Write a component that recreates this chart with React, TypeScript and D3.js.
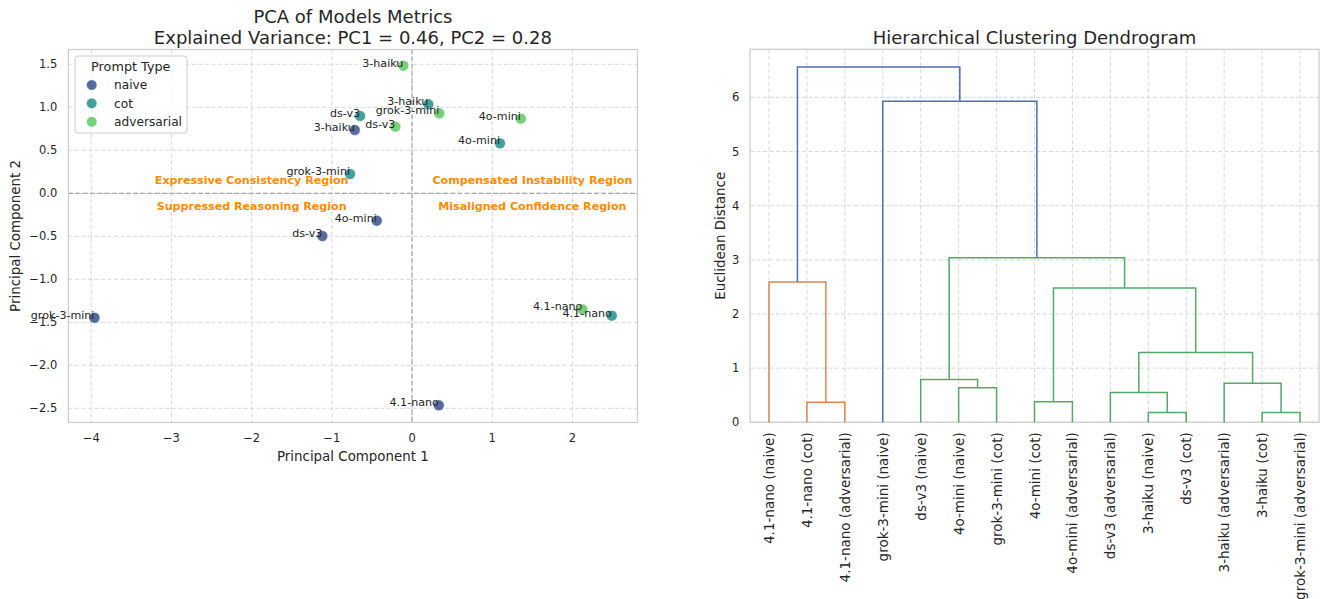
import React from 'react';
import * as d3 from 'd3';

const W = 1320, H = 599;
const FONT = 'DejaVu Sans, Liberation Sans, sans-serif';
const TEXT = '#262626';
const GRID = '#d4d4d4';
const SPINE = '#cccccc';

// PCA scatter data (PC1, PC2) per prompt type
const promptTypes = ['naive', 'cot', 'adversarial'];
const typeColors = ['#3b528b', '#21918c', '#5ec962'];
const naiveModels = ['3-haiku', 'grok-3-mini', '4o-mini', 'ds-v3', '4.1-nano'];
const naivePC1 = [-0.714, -3.96, -0.44, -1.118, 0.334];
const naivePC2 = [0.736, -1.447, -0.319, -0.497, -2.465];
const cotModels = ['ds-v3', '3-haiku', '4o-mini', 'grok-3-mini', '4.1-nano'];
const cotPC1 = [-0.648, 0.203, 1.097, -0.773, 2.491];
const cotPC2 = [0.899, 1.035, 0.581, 0.224, -1.423];
const advModels = ['3-haiku', 'grok-3-mini', 'ds-v3', '4o-mini', '4.1-nano'];
const advPC1 = [-0.108, 0.34, -0.208, 1.357, 2.123];
const advPC2 = [1.484, 0.93, 0.774, 0.867, -1.349];

const pcaXTicks = [-4, -3, -2, -1, 0, 1, 2];
const pcaYTicks = [-2.5, -2.0, -1.5, -1.0, -0.5, 0.0, 0.5, 1.0, 1.5];

const regionNames = ['Expressive Consistency Region', 'Compensated Instability Region', 'Suppressed Reasoning Region', 'Misaligned Confidence Region'];
const regionX = [-2, 1.5, -2, 1.5];
const regionY = [0.15, 0.15, -0.15, -0.15];

// dendrogram: leaves in display order, merges [left, right, height, color]
const leafLabels = [
  '4.1-nano (naive)', '4.1-nano (cot)', '4.1-nano (adversarial)', 'grok-3-mini (naive)',
  'ds-v3 (naive)', '4o-mini (naive)', 'grok-3-mini (cot)', '4o-mini (cot)',
  '4o-mini (adversarial)', 'ds-v3 (adversarial)', '3-haiku (naive)', 'ds-v3 (cot)',
  '3-haiku (adversarial)', '3-haiku (cot)', 'grok-3-mini (adversarial)',
];
const mergeLeft = [1, 0, 5, 4, 7, 10, 9, 13, 12, 21, 19, 18, 3, 16];
const mergeRight = [2, 15, 6, 17, 8, 11, 20, 14, 22, 23, 24, 25, 26, 27];
const mergeHeight = [0.37, 2.59, 0.64, 0.79, 0.38, 0.18, 0.55, 0.18, 0.72, 1.29, 2.48, 3.04, 5.93, 6.56];
const mergeColor = ['#dd8452', '#dd8452', '#55a868', '#55a868', '#55a868', '#55a868', '#55a868', '#55a868', '#55a868', '#55a868', '#55a868', '#55a868', '#4c72b0', '#4c72b0'];
const dendroYTicks = [0, 1, 2, 3, 4, 5, 6];

const fmtY = (v: number) => v.toFixed(1).replace('-', '\u2212');
const fmtX = (v: number) => String(v).replace('-', '\u2212');

function PcaPanel() {
  const x = d3.scaleLinear().domain([-4.285, 2.81]).range([68.4, 637.4]);
  const y = d3.scaleLinear().domain([-2.665, 1.672]).range([422.5, 49.5]);
  const [x0, x1] = x.range();
  const [y0, y1] = y.range();
  const series = [
    { models: naiveModels, pc1: naivePC1, pc2: naivePC2 },
    { models: cotModels, pc1: cotPC1, pc2: cotPC2 },
    { models: advModels, pc1: advPC1, pc2: advPC2 },
  ];
  const cx = (x0 + x1) / 2;
  return (
    <g fontFamily={FONT}>
      {pcaXTicks.map(t => (
        <line key={'gx' + t} x1={x(t)} x2={x(t)} y1={y1} y2={y0} stroke={GRID} strokeWidth={0.9} strokeDasharray="4,2.5" />
      ))}
      {pcaYTicks.map(t => (
        <line key={'gy' + t} x1={x0} x2={x1} y1={y(t)} y2={y(t)} stroke={GRID} strokeWidth={0.9} strokeDasharray="4,2.5" />
      ))}
      <line x1={x(0)} x2={x(0)} y1={y1} y2={y0} stroke="#999" strokeWidth={1} strokeDasharray="5,2.2" />
      <line x1={x0} x2={x1} y1={y(0)} y2={y(0)} stroke="#999" strokeWidth={1} strokeDasharray="5,2.2" />
      <rect x={x0} y={y1} width={x1 - x0} height={y0 - y1} fill="none" stroke={SPINE} strokeWidth={1.25} />
      {series.map((s, si) => s.models.map((m, i) => (
        <circle key={'p' + si + i} cx={x(s.pc1[i])} cy={y(s.pc2[i])} r={5.5} fill={typeColors[si]} fillOpacity={0.85} stroke="#fff" strokeWidth={0.6} />
      )))}
      {series.map((s, si) => s.models.map((m, i) => (
        <text key={'l' + si + i} x={x(s.pc1[i])} y={y(s.pc2[i]) + 1} textAnchor="end" fontSize={11.1} fill={TEXT}>{m}</text>
      )))}
      {regionNames.map((r, i) => (
        <text key={r} x={x(regionX[i])} y={y(regionY[i])} dy="0.36em" textAnchor="middle" fontSize={11.1} fontWeight="bold" fill="#ff8c00">{r}</text>
      ))}
      {pcaXTicks.map(t => (
        <text key={'tx' + t} x={x(t)} y={442.3} textAnchor="middle" fontSize={11.5} fill={TEXT}>{fmtX(t)}</text>
      ))}
      {pcaYTicks.map(t => (
        <text key={'ty' + t} x={57.3} y={y(t) + 4.1} textAnchor="end" fontSize={11.5} fill={TEXT}>{fmtY(t)}</text>
      ))}
      <text x={cx} y={461} textAnchor="middle" fontSize={13.4} fill={TEXT}>Principal Component 1</text>
      <text transform={`translate(20,${(y0 + y1) / 2}) rotate(-90)`} textAnchor="middle" fontSize={13.4} fill={TEXT}>Principal Component 2</text>
      <text x={cx} y={22.5} textAnchor="middle" fontSize={18} fill={TEXT}>PCA of Models Metrics</text>
      <text x={cx} y={43.8} textAnchor="middle" fontSize={18} fill={TEXT}>Explained Variance: PC1 = 0.46, PC2 = 0.28</text>
      {/* legend */}
      <rect x={75} y={56} width={112} height={77} rx={3} fill="#fff" fillOpacity={0.8} stroke={SPINE} strokeWidth={1} />
      <text x={130.8} y={71.2} textAnchor="middle" fontSize={12.8} fill={TEXT}>Prompt Type</text>
      {promptTypes.map((p, i) => (
        <g key={p}>
          <circle cx={91.7} cy={85 + i * 18.35} r={5.3} fill={typeColors[i]} fillOpacity={0.85} stroke="#fff" strokeWidth={0.6} />
          <text x={114} y={85 + i * 18.35 + 4.4} fontSize={12.2} fill={TEXT}>{p}</text>
        </g>
      ))}
    </g>
  );
}

function DendroPanel() {
  const n = leafLabels.length;
  const x = d3.scaleLinear().domain([0, n * 10]).range([750, 1319]);
  const maxH = d3.max(mergeHeight) as number;
  const y = d3.scaleLinear().domain([0, maxH * 1.05]).range([422.3, 49.3]);
  const [x0, x1] = x.range();
  const [y0, y1] = y.range();
  // positions of each node: leaves first, then merges
  const nodeX: number[] = leafLabels.map((_, i) => i * 10 + 5);
  const nodeH: number[] = leafLabels.map(() => 0);
  mergeLeft.forEach((l, k) => {
    const r = mergeRight[k];
    nodeX.push((nodeX[l] + nodeX[r]) / 2);
    nodeH.push(mergeHeight[k]);
  });
  const links = mergeLeft.map((l, k) => {
    const r = mergeRight[k];
    const p = d3.path();
    p.moveTo(x(nodeX[l]), y(nodeH[l]));
    p.lineTo(x(nodeX[l]), y(mergeHeight[k]));
    p.lineTo(x(nodeX[r]), y(mergeHeight[k]));
    p.lineTo(x(nodeX[r]), y(nodeH[r]));
    return { d: p.toString(), color: mergeColor[k] };
  });
  const cx = (x0 + x1) / 2;
  return (
    <g fontFamily={FONT}>
      {leafLabels.map((_, i) => (
        <line key={'gx' + i} x1={x(i * 10 + 5)} x2={x(i * 10 + 5)} y1={y1} y2={y0} stroke={GRID} strokeWidth={0.9} strokeDasharray="4,2.5" />
      ))}
      {dendroYTicks.map(t => (
        <line key={'gy' + t} x1={x0} x2={x1} y1={y(t)} y2={y(t)} stroke={GRID} strokeWidth={0.9} strokeDasharray="4,2.5" />
      ))}
      <rect x={x0} y={y1} width={x1 - x0} height={y0 - y1} fill="none" stroke={SPINE} strokeWidth={1.25} />
      {links.map((lk, i) => (
        <path key={'lk' + i} d={lk.d} fill="none" stroke={lk.color} strokeWidth={1.5} />
      ))}
      {dendroYTicks.map(t => (
        <text key={'ty' + t} x={739.3} y={y(t) + 4.1} textAnchor="end" fontSize={11.5} fill={TEXT}>{t}</text>
      ))}
      {leafLabels.map((lab, i) => (
        <text key={'tx' + i} transform={`translate(${x(i * 10 + 5) + 5},432.3) rotate(-90)`} textAnchor="end" fontSize={13.5} fill={TEXT}>{lab}</text>
      ))}
      <text transform={`translate(724.5,${(y0 + y1) / 2}) rotate(-90)`} textAnchor="middle" fontSize={13.4} fill={TEXT}>Euclidean Distance</text>
      <text x={cx} y={43.8} textAnchor="middle" fontSize={18} fill={TEXT}>Hierarchical Clustering Dendrogram</text>
    </g>
  );
}

export default function App() {
  return (
    <svg width={W} height={H} style={{ position: 'absolute', left: 0, top: 0, background: '#fff' }}>
      <rect width={W} height={H} fill="#fff" />
      <PcaPanel />
      <DendroPanel />
    </svg>
  );
}
